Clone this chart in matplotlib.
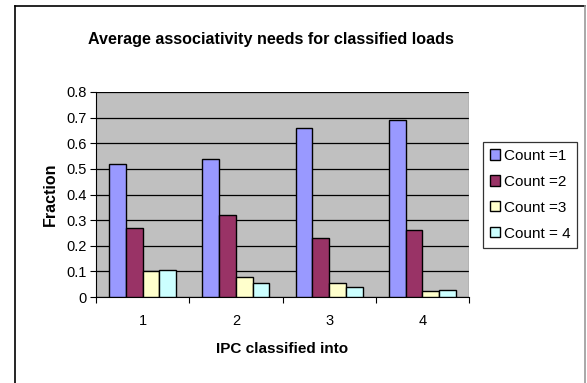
import matplotlib
matplotlib.use("Agg")
import matplotlib.pyplot as plt
import numpy as np
from matplotlib.lines import Line2D

plt.rcParams['font.family'] = ['Liberation Sans', 'DejaVu Sans']

groups = ["1", "2", "3", "4"]
series_names = ["Count =1", "Count =2", "Count =3", "Count = 4"]
count1 = [0.52, 0.54, 0.66, 0.69]
count2 = [0.27, 0.32, 0.23, 0.26]
count3 = [0.10, 0.08, 0.055, 0.025]
count4 = [0.105, 0.055, 0.04, 0.028]
colors = ["#9999FF", "#993366", "#FFFFCC", "#CCFFFF"]

fig = plt.figure(figsize=(5.87, 3.83), dpi=100)
ax = fig.add_axes([0.1636, 0.2245, 0.799 - 0.1636, 0.7598 - 0.2245])
ax.set_facecolor("#C0C0C0")

ind = np.arange(1, 5)
w = 0.18
for i, (vals, name) in enumerate(zip([count1, count2, count3, count4], series_names)):
    ax.bar(ind + (i - 1.5) * w, vals, width=w, color=colors[i], edgecolor="black",
           linewidth=1.0, label=name, zorder=3)

ax.set_xlim(0.5, 4.5)
ax.set_ylim(0, 0.8)
ax.set_yticks(np.arange(0, 0.81, 0.1))
ax.set_yticklabels(["0"] + ["%.1f" % v for v in np.arange(0.1, 0.81, 0.1)])
ax.yaxis.grid(True, color="black", linewidth=0.9, zorder=1)
ax.set_axisbelow(True)

# ticks between categories, labels at centres
ax.set_xticks([0.5, 1.5, 2.5, 3.5, 4.5])
ax.set_xticklabels([])
ax.set_xticks(ind, minor=True)
ax.set_xticklabels(groups, minor=True)
ax.tick_params(axis="x", which="minor", length=0, pad=12, labelsize=10.5)
ax.tick_params(axis="x", which="major", length=4, direction="out", width=0.8)
ax.tick_params(axis="y", length=4, direction="out", width=0.8, labelsize=10.5, pad=3)

for s in ["top", "right"]:
    ax.spines[s].set_visible(False)
ax.spines["left"].set_color("black")
ax.spines["bottom"].set_color("black")
ax.axvline(4.5, color="#808080", linewidth=1.0, zorder=2)

ax.set_xlabel("IPC classified into", fontsize=11, fontweight="bold", labelpad=10)
ax.set_ylabel("Fraction", fontsize=11.5, fontweight="bold", labelpad=6)
fig.text(0.462, 0.897, "Average associativity needs for classified loads",
         ha="center", va="center", fontsize=11.6, fontweight="bold")

leg = fig.legend(loc="upper left", bbox_to_anchor=(483 / 587, 1 - 142 / 383),
                 frameon=True, fancybox=False, edgecolor="black", fontsize=11,
                 handlelength=0.65, handleheight=0.65, handletextpad=0.25,
                 labelspacing=0.78, borderpad=0.45, borderaxespad=0)
leg.get_frame().set_linewidth(0.9)

# chart border
fig.add_artist(Line2D([15 / 587, 15 / 587], [0, 1 - 6 / 383], color="black", lw=1.2))
fig.add_artist(Line2D([15 / 587, 585 / 587], [1 - 6 / 383, 1 - 6 / 383], color="black", lw=1.2))
fig.add_artist(Line2D([585 / 587, 585 / 587], [0, 1 - 6 / 383], color="#999999", lw=1.2))

fig.savefig("out.png", dpi=100)
